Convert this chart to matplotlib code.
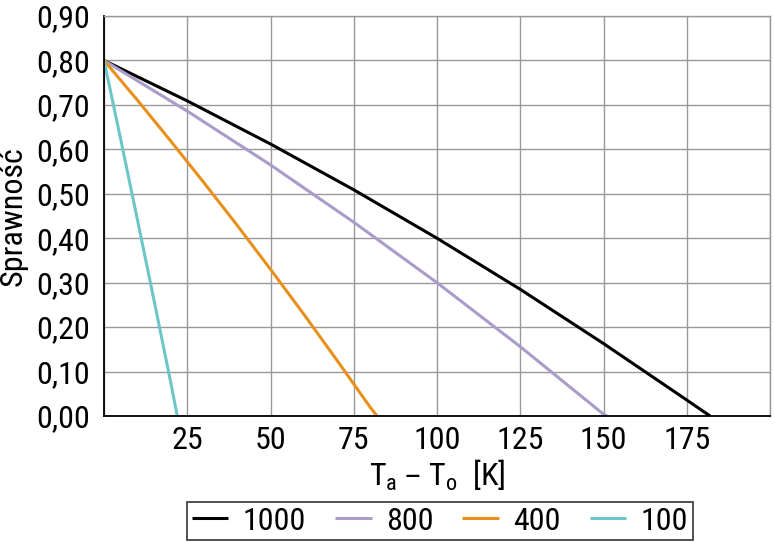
import matplotlib
matplotlib.use("Agg")
import matplotlib.pyplot as plt
from matplotlib.ticker import FuncFormatter
from matplotlib import font_manager

names = {f.name for f in font_manager.fontManager.ttflist}
fam = [n for n in ["Roboto Condensed", "Liberation Sans Narrow", "Liberation Sans"] if n in names] + ["DejaVu Sans"]
plt.rcParams['font.family'] = fam

# Data
x_1000 = [0, 25, 50, 75, 100, 125, 150, 175, 182]
y_1000 = [0.80, 0.709, 0.612, 0.509, 0.400, 0.285, 0.163, 0.036, 0.0]
x_800 = [0, 25, 50, 75, 100, 125, 150, 151]
y_800 = [0.80, 0.686, 0.565, 0.436, 0.300, 0.156, 0.004, 0.0]
x_400 = [0, 10, 20, 30, 40, 50, 60, 70, 80, 82]
y_400 = [0.80, 0.711, 0.619, 0.525, 0.429, 0.330, 0.229, 0.125, 0.019, 0.0]
x_100 = [0, 5, 10, 15, 20, 22]
y_100 = [0.80, 0.623, 0.443, 0.261, 0.077, 0.0]

labels = ["1000", "800", "400", "100"]
colors = ["#000000", "#a99cc9", "#e8901c", "#6cc6c8"]
xticks = [25, 50, 75, 100, 125, 150, 175]
yticks = [0.0, 0.1, 0.2, 0.3, 0.4, 0.5, 0.6, 0.7, 0.8, 0.9]

fig = plt.figure(figsize=(7.75, 5.42), dpi=100)
ax = fig.add_axes([104/775, 1-416/542, (770-104)/775, (416-16)/542])

series = [(x_1000, y_1000), (x_800, y_800), (x_400, y_400), (x_100, y_100)]
for (xs, ys), lab, c in zip(series, labels, colors):
    ax.plot(xs, ys, color=c, lw=2.2, label=lab, solid_capstyle='butt')

ax.set_xlim(0, 200)
ax.set_ylim(0, 0.9)
ax.set_xticks(xticks)
ax.set_xticks([0, 200], minor=True)
ax.set_yticks(yticks)
ax.grid(True, which='both', color='#999999', lw=1.0)
ax.set_axisbelow(True)
ax.yaxis.set_major_formatter(FuncFormatter(lambda v, p: f"{v:.2f}".replace('.', ',')))
ax.tick_params(axis='both', which='both', length=0, labelsize=23)
ax.tick_params(axis='y', pad=10)
ax.tick_params(axis='x', pad=7)
for s in ['top', 'right']:
    ax.spines[s].set_color('#999999')
    ax.spines[s].set_linewidth(1.0)
for s in ['left', 'bottom']:
    ax.spines[s].set_color('black')
    ax.spines[s].set_linewidth(1.3)

ax.set_xlabel(r"T$_\mathregular{a}$ – T$_\mathregular{o}$  [K]", fontsize=23, labelpad=2)
ax.set_ylabel("Sprawność", fontsize=23)
ax.yaxis.set_label_coords(-0.114, 0.5)

leg = fig.legend(loc='center', bbox_to_anchor=(440/775, 1-521/542), ncol=4, fontsize=23,
                 frameon=True, fancybox=False, edgecolor='black', handlelength=1.15,
                 columnspacing=0.9, handletextpad=0.45, borderpad=0.15, borderaxespad=0)
leg.get_frame().set_linewidth(1.2)

fig.savefig("out.png", dpi=100)
